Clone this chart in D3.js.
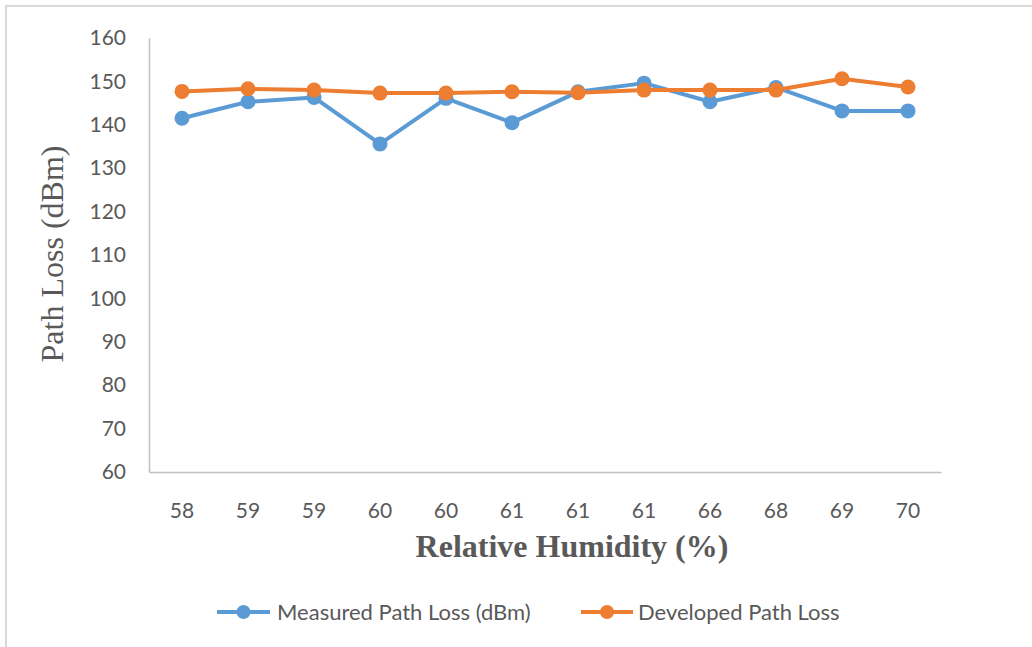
<!DOCTYPE html>
<html>
<head>
<meta charset="utf-8">
<script src="https://cdn.jsdelivr.net/npm/d3@7"></script>
<style>
  html, body { margin: 0; padding: 0; background: #fff; }
  svg { display: block; }
</style>
</head>
<body>
<svg id="chart" width="1032" height="647"></svg>
<script>
// Relative humidity readings (category labels, in recorded order)
const categories = ["58", "59", "59", "60", "60", "61", "61", "61", "66", "68", "69", "70"];
// Path loss values (dBm)
const measured  = [141.5, 145.3, 146.3, 135.6, 146.1, 140.5, 147.6, 149.6, 145.3, 148.6, 143.2, 143.2];
const developed = [147.7, 148.3, 148.0, 147.3, 147.3, 147.6, 147.4, 148.0, 148.0, 148.0, 150.6, 148.7];
const yTicks = [60, 70, 80, 90, 100, 110, 120, 130, 140, 150, 160];
const seriesNames = ["Measured Path Loss (dBm)", "Developed Path Loss"];
const colors = ["#5B9BD5", "#ED7D31"];

const svg = d3.select("#chart");
const W = 1032, H = 647;
const plot = { left: 149, right: 941, top: 38, bottom: 472 };
const tickFont = "Lato, 'Open Sans', sans-serif";
const titleFont = "'Liberation Serif', 'DejaVu Serif', serif";

// chart frame
svg.append("path")
  .attr("d", `M6,${H} L6,6 L${W},6`)
  .attr("fill", "none")
  .attr("stroke", "#d9d9d9")
  .attr("stroke-width", 2);

const idx = d3.range(categories.length);
const x = d3.scaleBand().domain(idx).range([plot.left, plot.right]);
const y = d3.scaleLinear().domain([60, 160]).range([plot.bottom, plot.top]);
const cx = i => x(i) + x.bandwidth() / 2;

// y axis
const yAxis = svg.append("g")
  .attr("transform", `translate(${plot.left},0)`)
  .call(d3.axisLeft(y).tickValues(yTicks).tickSize(0).tickPadding(23));
yAxis.select(".domain").attr("stroke", "#bfbfbf").attr("stroke-width", 1.5);
yAxis.selectAll("text")
  .attr("font-family", tickFont)
  .attr("font-size", 21)
  .attr("fill", "#595959");

// x axis
const xAxis = svg.append("g")
  .attr("transform", `translate(0,${plot.bottom})`)
  .call(d3.axisBottom(x).tickFormat(i => categories[i]).tickSize(0).tickPadding(31));
xAxis.select(".domain").attr("stroke", "#bfbfbf").attr("stroke-width", 1.5);
xAxis.selectAll("text")
  .attr("font-family", tickFont)
  .attr("font-size", 21)
  .attr("fill", "#595959");

// axis titles
svg.append("text")
  .attr("transform", `translate(63,254) rotate(-90)`)
  .attr("text-anchor", "middle")
  .attr("font-family", titleFont)
  .attr("font-size", 32)
  .attr("fill", "#595959")
  .text("Path Loss (dBm)");

svg.append("text")
  .attr("x", 572)
  .attr("y", 557)
  .attr("text-anchor", "middle")
  .attr("font-family", titleFont)
  .attr("font-weight", "bold")
  .attr("font-size", 32)
  .attr("fill", "#595959")
  .text("Relative Humidity (%)");

// series lines and markers
const line = d3.line().x((d, i) => cx(i)).y(d => y(d));
[measured, developed].forEach((vals, s) => {
  const g = svg.append("g");
  g.append("path")
    .datum(vals)
    .attr("d", line)
    .attr("fill", "none")
    .attr("stroke", colors[s])
    .attr("stroke-width", 4)
    .attr("stroke-linejoin", "round");
  g.selectAll("circle")
    .data(vals)
    .join("circle")
    .attr("cx", (d, i) => cx(i))
    .attr("cy", d => y(d))
    .attr("r", 7.5)
    .attr("fill", colors[s]);
});

// legend
const legendItems = [
  { x0: 217, x1: 270, tx: 277 },
  { x0: 581, x1: 633, tx: 638 }
];
legendItems.forEach((it, s) => {
  const g = svg.append("g");
  g.append("line")
    .attr("x1", it.x0).attr("x2", it.x1)
    .attr("y1", 612).attr("y2", 612)
    .attr("stroke", colors[s]).attr("stroke-width", 4);
  g.append("circle")
    .attr("cx", (it.x0 + it.x1) / 2).attr("cy", 612)
    .attr("r", 7).attr("fill", colors[s]);
  g.append("text")
    .attr("x", it.tx).attr("y", 620)
    .attr("font-family", tickFont)
    .attr("font-size", 22)
    .attr("fill", "#595959")
    .text(seriesNames[s]);
});
</script>
</body>
</html>
